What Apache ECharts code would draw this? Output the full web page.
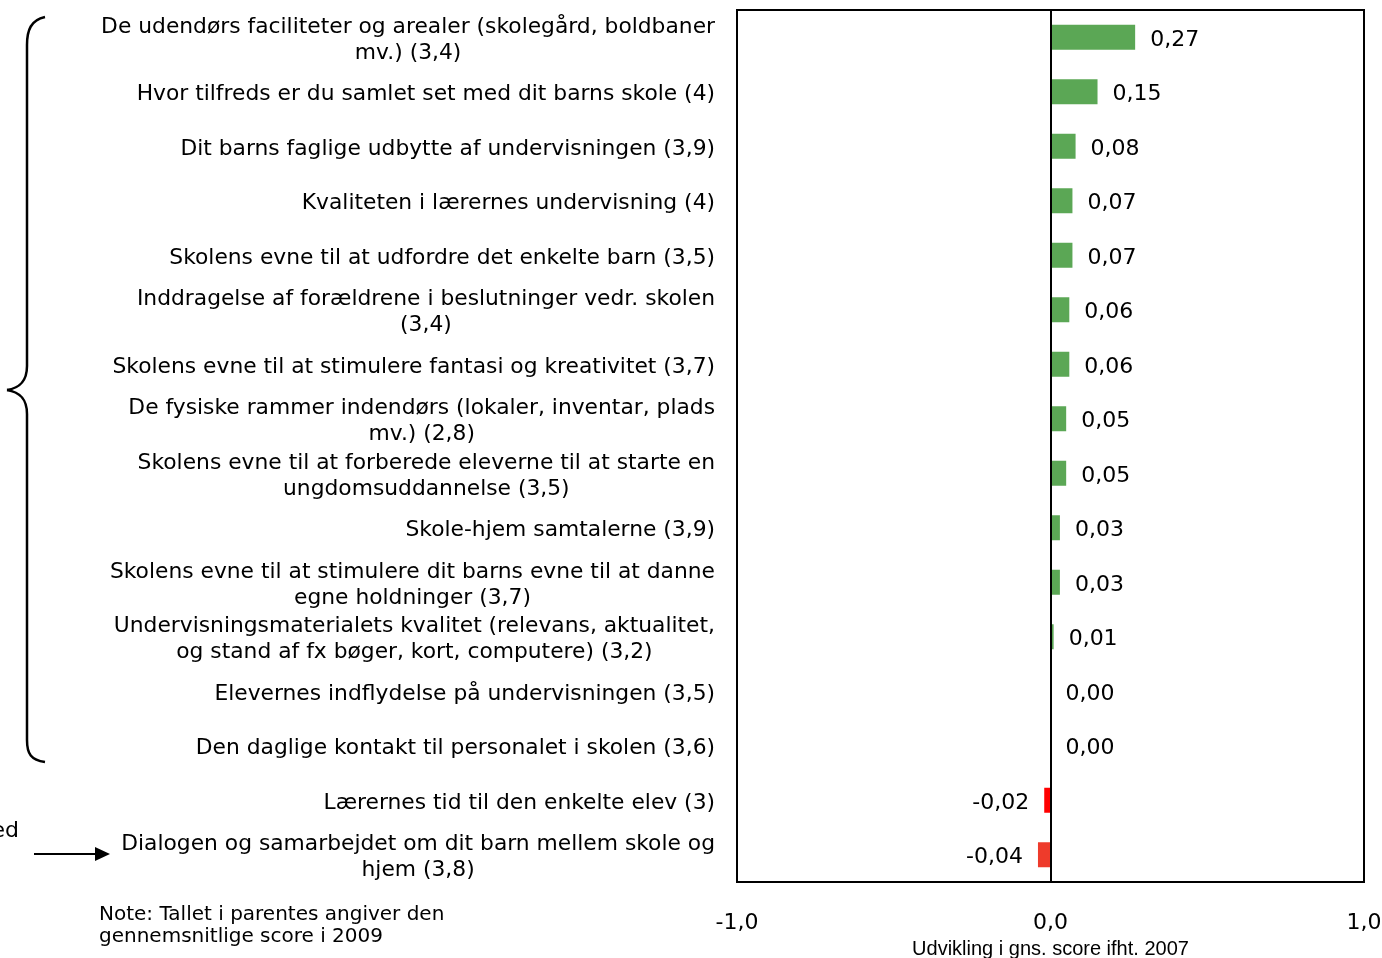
<!DOCTYPE html>
<html>
<head>
<meta charset="utf-8">
<script src="https://cdn.jsdelivr.net/npm/echarts@6/dist/echarts.min.js"></script>
<style>
    html, body { margin: 0; padding: 0; background: #fff; }
    #chart { width: 1382px; height: 958px; }
</style>
</head>
<body>
<div id="chart"></div>
<script>
// Categories (top to bottom), score in parentheses is the 2009 average
var categories = [
    'De udendørs faciliteter og arealer (skolegård, boldbaner\nmv.) (3,4)',
    'Hvor tilfreds er du samlet set med dit barns skole (4)',
    'Dit barns faglige udbytte af undervisningen (3,9)',
    'Kvaliteten i lærernes undervisning (4)',
    'Skolens evne til at udfordre det enkelte barn (3,5)',
    'Inddragelse af forældrene i beslutninger vedr. skolen\n(3,4)',
    'Skolens evne til at stimulere fantasi og kreativitet (3,7)',
    'De fysiske rammer indendørs (lokaler, inventar, plads\nmv.) (2,8)',
    'Skolens evne til at forberede eleverne til at starte en\nungdomsuddannelse (3,5)',
    'Skole-hjem samtalerne (3,9)',
    'Skolens evne til at stimulere dit barns evne til at danne\negne holdninger (3,7)',
    'Undervisningsmaterialets kvalitet (relevans, aktualitet,\nog stand af fx bøger, kort, computere) (3,2)',
    'Elevernes indflydelse på undervisningen (3,5)',
    'Den daglige kontakt til personalet i skolen (3,6)',
    'Lærernes tid til den enkelte elev (3)',
    'Dialogen og samarbejdet om dit barn mellem skole og\nhjem (3,8)'
]

// Change in average score compared to 2007
var changes = [0.27, 0.15, 0.08, 0.07, 0.07, 0.06, 0.06, 0.05, 0.05, 0.03, 0.03, 0.01, 0.00, 0.00, -0.02, -0.04]

var xTicks = [-1, 0, 1]

var noteText = 'Note: Tallet i parentes angiver den\ngennemsnitlige score i 2009'

function fmt(v, d) {
    return v.toFixed(d).replace('.', ',')
}

var FONT = 'DejaVu Sans'
var braceStyle = { fill: 'none', stroke: '#000', lineWidth: 2.5 }

var chart = echarts.init(document.getElementById('chart'))

var option = {
    animation: false,
    backgroundColor: '#fff',
    grid: {
        left: 737,
        right: 18,
        top: 10,
        bottom: 76,
        show: true,
        borderColor: '#000',
        borderWidth: 2,
        containLabel: false,
        outerBoundsMode: 'none'
    },
    xAxis: {
        type: 'value',
        min: xTicks[0],
        max: xTicks[xTicks.length - 1],
        interval: 1,
        axisLine: { show: false },
        axisTick: { show: false },
        splitLine: { show: false },
        axisLabel: {
            margin: 30,
            fontFamily: FONT,
            fontSize: 22,
            color: '#000',
            formatter: function (v) { return fmt(v, 1) }
        },
        name: 'Udvikling i gns. score ifht. 2007',
        nameLocation: 'middle',
        nameGap: 57,
        nameTextStyle: {
            fontFamily: 'Liberation Sans Narrow, Liberation Sans',
            fontSize: 20,
            color: '#000',
            verticalAlign: 'top'
        }
    },
    yAxis: {
        type: 'category',
        inverse: true,
        data: categories,
        axisLine: { show: false },
        axisTick: { show: false },
        splitLine: { show: false },
        axisLabel: {
            margin: 22,
            align: 'right',
            padding: [6, 0, 0, 0],
            formatter: function (v) {
                return v.split('\n').map(function (l) { return '{c|' + l + '}' }).join('\n')
            },
            rich: {
                c: {
                    align: 'center',
                    fontFamily: FONT,
                    fontSize: 21.8,
                    lineHeight: 26,
                    color: '#000'
                }
            }
        }
    },
    series: [{
        type: 'bar',
        // negative bars get their labels on the left side
        data: changes.map(function (v) {
            return v < 0 ? { value: v, label: { position: 'left' } } : v
        }),
        barWidth: 25,
        itemStyle: {
            color: function (p) {
                if (p.value >= 0) return '#5BA755'
                return p.value > -0.03 ? '#FF0000' : '#EE3B2B'
            }
        },
        label: {
            show: true,
            fontFamily: FONT,
            fontSize: 22,
            color: '#000',
            distance: 15,
            offset: [0, 3],
            position: 'right',
            formatter: function (p) { return fmt(p.value, 2) }
        },
        markLine: {
            silent: true,
            symbol: 'none',
            label: { show: false },
            lineStyle: { color: '#000', width: 2, type: 'solid' },
            data: [{ xAxis: 0 }]
        }
    }],
    graphic: [
        // curly brace grouping the positive items
        { type: 'bezierCurve', shape: { x1: 45, y1: 17, cpx1: 31, cpy1: 20, cpx2: 27, cpy2: 30, x2: 27, y2: 45 }, style: braceStyle },
        { type: 'line', shape: { x1: 27, y1: 45, x2: 27, y2: 366 }, style: braceStyle },
        { type: 'bezierCurve', shape: { x1: 27, y1: 366, cpx1: 27, cpy1: 382, cpx2: 19, cpy2: 388, x2: 7, y2: 390 }, style: braceStyle },
        { type: 'bezierCurve', shape: { x1: 7, y1: 390, cpx1: 19, cpy1: 392, cpx2: 27, cpy2: 398, x2: 27, y2: 414 }, style: braceStyle },
        { type: 'line', shape: { x1: 27, y1: 414, x2: 27, y2: 740 }, style: braceStyle },
        { type: 'bezierCurve', shape: { x1: 27, y1: 740, cpx1: 27, cpy1: 754, cpx2: 31, cpy2: 760, x2: 45, y2: 762 }, style: braceStyle },
        // arrow
        { type: 'line', shape: { x1: 34, y1: 854, x2: 97, y2: 854 }, style: { stroke: '#000', lineWidth: 2 } },
        { type: 'polygon', shape: { points: [[95, 847], [110, 854], [95, 861]] }, style: { fill: '#000' } },
        {
            type: 'text',
            x: 19,
            y: 831,
            style: {
                text: 'ed',
                fontFamily: FONT,
                fontSize: 22,
                fill: '#000',
                align: 'right',
                verticalAlign: 'middle'
            }
        },
        {
            type: 'text',
            x: 99,
            y: 904,
            style: {
                text: noteText,
                fontFamily: FONT,
                fontSize: 20,
                lineHeight: 22,
                fill: '#000',
                align: 'left',
                verticalAlign: 'top'
            }
        }
    ]
}

chart.setOption(option)
</script>
</body>
</html>
